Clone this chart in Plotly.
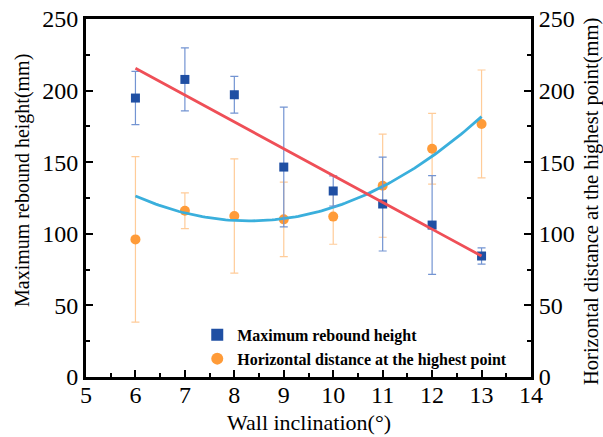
import numpy as np
import plotly.graph_objects as go

# Wall inclination (degrees)
inclination = [6, 7, 8, 9, 10, 11, 12, 13]

# Maximum rebound height (mm) and its error
rebound_height = [194.8, 207.8, 197.1, 146.6, 129.9, 120.8, 106.1, 84.5]
rebound_err = [18.6, 22.0, 12.8, 41.8, 10.5, 32.8, 34.5, 5.7]

# Horizontal distance at the highest point (mm) and its error
horiz_dist = [96.1, 116.1, 112.4, 110.1, 112.0, 133.6, 159.4, 176.7]
horiz_err = [57.8, 12.5, 39.9, 26.0, 19.3, 36.0, 24.7, 37.7]

# Trend-line coefficients (highest power first)
height_fit = [-18.73, 327.97]          # linear
dist_fit = [3.296, -54.71, 336.0]      # quadratic

x_ticks = [5, 6, 7, 8, 9, 10, 11, 12, 13, 14]
y_ticks = [0, 50, 100, 150, 200, 250]

SERIF = "Liberation Serif, Times New Roman, serif"

xs = np.linspace(min(inclination), max(inclination), 120)

fig = go.Figure()

fig.add_trace(go.Scatter(
    x=inclination, y=horiz_dist, mode="markers",
    name="Horizontal distance at the highest point",
    marker=dict(symbol="circle", size=10, color="#ff9b38"),
    error_y=dict(type="data", array=horiz_err, visible=True,
                 color="#ffcc99", thickness=1.2, width=4),
))
fig.add_trace(go.Scatter(
    x=xs, y=np.polyval(dist_fit, xs), mode="lines", showlegend=False,
    line=dict(color="#3aafdc", width=2.8), hoverinfo="skip",
))
fig.add_trace(go.Scatter(
    x=inclination, y=rebound_height, mode="markers",
    name="Maximum rebound height",
    marker=dict(symbol="square", size=9, color="#1f4fa3"),
    error_y=dict(type="data", array=rebound_err, visible=True,
                 color="#7394d2", thickness=1.2, width=4),
))
fig.add_trace(go.Scatter(
    x=xs, y=np.polyval(height_fit, xs), mode="lines", showlegend=False,
    line=dict(color="#ef4f57", width=2.8), hoverinfo="skip",
))
# right-hand axis carries the horizontal distance scale
fig.add_trace(go.Scatter(
    x=inclination, y=horiz_dist, yaxis="y2", mode="markers",
    marker=dict(opacity=0), showlegend=False, hoverinfo="skip",
))

axis_common = dict(
    ticks="inside", ticklen=7, tickwidth=2, tickcolor="black",
    showline=True, linecolor="black", linewidth=3,
    showgrid=False, zeroline=False, automargin=False,
    tickfont=dict(size=24, family=SERIF, color="black"),
)
y_common = dict(
    range=[0, 250], tickvals=y_ticks,
    minor=dict(dtick=25, ticks="inside", ticklen=4, tickwidth=2, tickcolor="black"),
    **axis_common,
)

fig.update_layout(
    width=603, height=437,
    margin=dict(l=86, r=72, t=19, b=60),
    plot_bgcolor="white", paper_bgcolor="white",
    font=dict(family=SERIF, color="black"),
    showlegend=True,
    legend=dict(
        x=0.25, y=0.165, xanchor="left", yanchor="top",
        bgcolor="rgba(0,0,0,0)", traceorder="reversed",
        font=dict(family=SERIF, size=16, weight="bold", color="black"),
        itemsizing="constant", tracegroupgap=0,
    ),
    xaxis=dict(
        range=[5, 14], tickvals=x_ticks, mirror=True, ticklabelstandoff=-6,
        minor=dict(dtick=0.5, ticks="inside", ticklen=4, tickwidth=2, tickcolor="black"),
        **axis_common,
    ),
    yaxis=dict(**y_common),
    yaxis2=dict(overlaying="y", side="right", **y_common),
    annotations=[
        dict(text="Wall inclination(°)", xref="paper", yref="paper",
             x=0.5011, y=-0.1277, xanchor="center", yanchor="middle",
             showarrow=False, font=dict(size=22, family=SERIF, color="black")),
        dict(text="Maximum rebound height(mm)", xref="paper", yref="paper",
             x=-0.1416, y=0.5503, xanchor="center", yanchor="middle", textangle=-90,
             showarrow=False, font=dict(size=20, family=SERIF, color="black")),
        dict(text="Horizontal distance at the highest point(mm)", xref="paper", yref="paper",
             x=1.1348, y=0.4916, xanchor="center", yanchor="middle", textangle=-90,
             showarrow=False, font=dict(size=20.5, family=SERIF, color="black")),
    ],
)

fig.write_html("out.html")
